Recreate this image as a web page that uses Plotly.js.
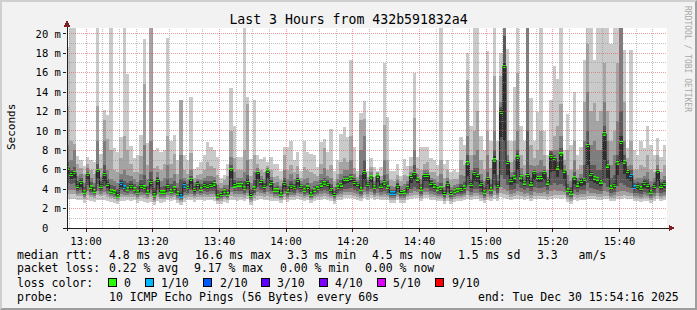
<!DOCTYPE html>
<html><head><meta charset="utf-8">
<script src="https://cdn.plot.ly/plotly-3.0.1.min.js"></script>
<style>
html,body{margin:0;padding:0;background:#f2f2f2;}
#wrap{position:relative;width:697px;height:310px;overflow:hidden;}
#chart{width:697px;height:310px;}
#frame{position:absolute;left:0;top:0;width:697px;height:310px;box-sizing:border-box;border-top:2px solid #cfcfcf;border-left:2px solid #cfcfcf;border-right:2px solid #9e9e9e;border-bottom:2px solid #9e9e9e;pointer-events:none;}
.shapelayer path{shape-rendering:crispEdges;}
</style>
</head><body>
<div id="wrap"><div id="chart"></div><div id="frame"></div></div>
<script>
// ---- time axis ----
const startUTC = [2025, 11, 30, 12, 54, 0];   // first step start
const stepSeconds = 60;
const rangeStart = [2025, 11, 30, 12, 54, 16];
const rangeEnd = [2025, 11, 30, 15, 54, 16];
const xTickLabels = ['13:00','13:20','13:40','14:00','14:20','14:40','15:00','15:20','15:40'];
const yTickVals = [0,2,4,6,8,10,12,14,16,18,20];
const yTickText = ['0\u00a0\u00a0',' 2 m',' 4 m',' 6 m',' 8 m','10 m','12 m','14 m','16 m','18 m','20 m'];

// ---- median rtt (ms) per 60 s step ----
const med = [
6.2,5.5,5.7,4.3,4.7,3.7,5.5,4.2,3.8,5.9,
4.3,5.5,4.5,3.8,3.7,3.3,4.6,4.2,4.0,4.3,
4.0,3.7,4.3,4.2,3.7,4.7,3.4,4.9,3.7,3.7,
4.25,3.8,4.1,3.6,3.3,4.35,4.15,5.0,3.95,4.5,
4.0,4.4,4.3,4.4,4.55,3.3,3.45,3.8,3.5,6.0,
4.35,4.45,4.45,4.1,4.7,3.35,4.1,5.7,4.8,4.3,
5.85,4.6,3.9,3.9,3.5,4.6,3.8,4.3,4.15,4.9,
4.25,3.9,4.2,3.5,3.9,4.1,4.45,4.65,4.5,3.95,
3.45,4.2,4.45,5.0,5.0,5.15,4.7,4.5,4.0,5.7,
4.5,5.25,4.2,5.35,4.3,4.65,4.2,3.6,3.6,4.3,
3.65,3.7,4.15,5.3,5.6,5.05,4.0,5.4,5.4,4.6,
4.35,4.0,4.1,3.55,4.5,3.55,3.8,3.9,3.95,4.2,
6.7,4.5,5.6,5.4,4.5,3.7,5.1,4.0,7.0,4.25,
11.9,16.65,6.75,4.9,5.25,7.3,5.25,4.65,5.4,4.55,
5.7,5.2,5.2,5.7,4.65,7.35,7.15,6.2,7.6,5.85,
3.9,3.6,5.15,4.45,4.8,5.0,8.5,5.5,5.15,5.05,
4.75,9.7,6.4,4.2,4.4,6.7,8.8,6.8,5.8,5.4,
4.2,4.25,4.1,4.6,4.4,3.7,4.3,5.8,4.3,4.5];

// ---- lost pings (of 10) per step ----
const loss = [
0,0,0,0,0,0,0,0,0,0, 0,0,0,0,0,0,1,1,0,0, 0,0,0,0,0,0,0,0,0,0, 0,0,0,0,1,1,0,0,0,0,
0,0,0,0,0,0,0,0,0,0, 0,0,0,0,0,0,0,0,0,0, 0,0,0,0,0,0,0,0,0,0, 0,0,0,0,0,0,0,0,0,0,
0,0,0,0,0,0,0,0,0,0, 0,0,0,0,0,0,0,1,1,0, 0,0,0,0,0,0,0,0,0,0, 0,0,0,0,0,0,0,0,0,0,
0,0,0,0,0,0,0,0,0,0, 0,0,0,0,0,0,0,0,0,0, 0,0,0,0,0,0,0,0,0,0, 0,0,0,0,0,0,0,0,0,0,
0,0,0,0,0,0,0,0,0,1, 1,0,0,0,0,0,0,0,0,0];

// ---- the 10 sorted pings per step (ms), lowest p1 .. highest p10 ----
const p1 = [
3.0,3.0,3.0,2.9,2.9,2.6,2.9,2.8,2.7,2.9, 2.9,2.9,2.8,2.7,2.6,2.5,2.8,2.8,2.9,2.8,
2.9,2.6,2.8,2.7,2.6,2.7,2.4,2.8,2.6,2.7, 2.9,2.8,2.9,2.6,2.4,2.7,2.9,2.9,2.7,2.9,
2.9,2.8,2.9,2.9,2.8,2.5,2.5,2.7,2.6,2.9, 2.9,2.8,2.9,2.8,3.0,2.4,2.8,2.9,3.0,2.9,
2.9,2.8,2.8,2.8,2.6,2.9,2.7,2.9,2.9,3.0, 2.9,2.8,2.9,2.6,2.8,2.9,2.9,3.0,2.9,2.8,
2.5,2.9,2.9,3.1,3.1,3.1,3.0,2.9,2.8,3.1, 2.9,3.1,2.9,3.0,2.9,2.9,2.9,2.6,2.6,2.9,
2.6,2.6,2.9,3.0,3.1,3.1,2.8,3.1,3.1,2.9, 2.9,2.8,2.8,2.5,2.8,2.5,2.7,2.8,2.8,2.9,
3.0,2.9,3.0,3.0,2.8,2.6,2.9,2.8,3.0,2.8, 3.2,3.1,3.0,2.9,3.0,3.0,3.0,2.9,3.0,2.8,
3.0,3.0,3.0,3.0,2.9,3.0,3.1,3.1,3.0,3.1, 2.7,2.5,2.9,2.8,2.9,2.9,3.0,3.0,3.0,2.9,
2.9,3.0,3.0,2.8,2.8,3.0,3.0,3.1,3.0,3.0, 2.8,2.8,2.7,2.8,2.8,2.6,2.8,3.0,2.8,2.9];
const p2 = [
3.5,3.5,3.5,3.3,3.3,3.0,3.4,3.2,3.1,3.4, 3.3,3.4,3.2,3.1,3.0,2.8,3.2,3.2,3.2,3.2,
3.2,3.0,3.2,3.1,3.0,3.2,2.7,3.2,3.0,3.0, 3.2,3.1,3.2,2.9,2.7,3.1,3.2,3.2,3.1,3.2,
3.2,3.2,3.2,3.2,3.2,2.8,2.8,3.0,2.9,3.3, 3.2,3.2,3.2,3.1,3.3,2.7,3.1,3.3,3.3,3.2,
3.3,3.2,3.1,3.1,2.9,3.2,3.0,3.2,3.2,3.3, 3.2,3.1,3.2,2.9,3.1,3.2,3.2,3.3,3.2,3.1,
2.8,3.2,3.2,3.4,3.4,3.4,3.3,3.2,3.1,3.4, 3.2,3.4,3.2,3.3,3.2,3.2,3.2,2.9,2.9,3.2,
2.9,2.9,3.2,3.3,3.4,3.4,3.1,3.4,3.4,3.2, 3.2,3.1,3.1,2.8,3.1,2.8,3.0,3.1,3.1,3.2,
3.4,3.2,3.3,3.3,3.1,2.9,3.2,3.1,3.4,3.1, 3.6,3.5,3.4,3.2,3.3,3.4,3.3,3.2,3.3,3.1,
3.3,3.3,3.3,3.3,3.2,3.3,3.4,3.4,3.4,3.4, 3.0,2.8,3.2,3.1,3.2,3.2,3.3,3.3,3.3,3.2,
3.2,3.3,3.3,3.1,3.1,3.3,3.3,3.4,3.3,3.3, 3.1,3.1,3.0,3.1,3.1,2.9,3.1,3.3,3.1,3.2];
const p3 = [
3.9,3.9,3.9,3.5,3.6,3.2,3.8,3.4,3.3,3.8, 3.5,3.7,3.5,3.3,3.2,3.0,3.5,3.4,3.4,3.5,
3.4,3.2,3.4,3.4,3.2,3.5,2.9,3.5,3.2,3.2, 3.4,3.3,3.4,3.1,2.9,3.4,3.4,3.5,3.3,3.5,
3.4,3.5,3.4,3.5,3.5,2.9,3.0,3.2,3.1,3.7, 3.5,3.5,3.5,3.4,3.6,2.9,3.4,3.7,3.6,3.5,
3.7,3.5,3.3,3.3,3.1,3.5,3.2,3.4,3.4,3.6, 3.5,3.3,3.4,3.1,3.3,3.4,3.5,3.6,3.5,3.3,
3.0,3.4,3.5,3.7,3.7,3.7,3.6,3.5,3.3,3.7, 3.5,3.7,3.4,3.6,3.4,3.5,3.4,3.1,3.1,3.4,
3.1,3.1,3.4,3.6,3.8,3.7,3.3,3.7,3.7,3.5, 3.4,3.3,3.3,3.0,3.4,3.0,3.2,3.3,3.3,3.4,
3.8,3.4,3.6,3.6,3.4,3.1,3.5,3.3,3.8,3.4, 4.2,4.0,3.8,3.5,3.6,3.8,3.7,3.5,3.6,3.4,
3.7,3.6,3.6,3.7,3.5,3.8,3.9,3.8,3.8,3.7, 3.2,3.0,3.5,3.4,3.5,3.5,3.8,3.6,3.6,3.5,
3.5,3.8,3.7,3.3,3.4,3.7,3.8,3.8,3.7,3.6, 3.3,3.3,3.2,3.4,3.3,3.1,3.3,3.6,3.3,3.4];
const p4 = [
4.6,4.5,4.6,3.8,3.9,3.4,4.4,3.7,3.5,4.5, 3.8,4.3,3.8,3.5,3.4,3.1,3.9,3.7,3.6,3.8,
3.6,3.4,3.7,3.6,3.4,3.9,3.1,3.9,3.4,3.4, 3.7,3.5,3.6,3.3,3.0,3.7,3.6,3.9,3.5,3.8,
3.6,3.8,3.7,3.8,3.8,3.0,3.2,3.4,3.2,4.2, 3.8,3.8,3.8,3.6,3.9,3.1,3.6,4.2,3.9,3.7,
4.3,3.8,3.5,3.5,3.2,3.8,3.4,3.7,3.6,3.9, 3.7,3.5,3.6,3.2,3.5,3.6,3.8,3.9,3.8,3.5,
3.2,3.6,3.8,4.0,4.0,4.1,3.9,3.8,3.5,4.2, 3.8,4.0,3.6,4.0,3.7,3.8,3.6,3.3,3.3,3.7,
3.3,3.3,3.6,4.0,4.2,4.0,3.5,4.1,4.1,3.8, 3.7,3.5,3.5,3.2,3.7,3.2,3.4,3.5,3.5,3.6,
4.4,3.7,4.0,4.0,3.7,3.3,3.9,3.5,4.4,3.6, 5.5,5.0,4.4,3.9,4.0,4.5,4.1,3.9,4.1,3.8,
4.2,4.1,4.1,4.2,3.9,4.4,4.6,4.4,4.5,4.3, 3.4,3.2,3.9,3.7,3.9,3.9,4.6,4.1,4.0,3.9,
3.8,4.6,4.2,3.6,3.7,4.3,4.6,4.4,4.2,4.1, 3.6,3.6,3.5,3.7,3.6,3.3,3.6,4.1,3.6,3.7];
const p5 = [
5.6,5.0,5.2,4.0,4.2,3.5,4.9,3.9,3.6,5.2, 4.0,4.8,4.1,3.6,3.5,3.2,4.2,3.9,3.8,4.0,
3.8,3.5,4.0,3.9,3.5,4.3,3.2,4.4,3.5,3.5, 4.0,3.6,3.9,3.4,3.1,4.0,3.9,4.5,3.7,4.2,
3.8,4.1,4.0,4.1,4.2,3.1,3.3,3.6,3.3,5.2, 4.1,4.2,4.2,3.9,4.3,3.2,3.9,5.0,4.4,4.0,
5.1,4.2,3.7,3.7,3.3,4.2,3.6,4.0,3.9,4.4, 4.0,3.7,3.9,3.3,3.7,3.9,4.1,4.3,4.2,3.7,
3.3,3.9,4.1,4.5,4.6,4.7,4.3,4.2,3.8,4.9, 4.2,4.7,3.9,4.7,4.0,4.3,3.9,3.4,3.4,4.0,
3.5,3.5,3.9,4.6,4.9,4.6,3.8,4.8,4.8,4.2, 4.0,3.8,3.8,3.4,4.1,3.4,3.6,3.7,3.7,3.9,
5.4,4.1,4.8,4.7,4.1,3.5,4.5,3.8,5.6,4.0, 9.4,9.0,5.5,4.4,4.6,6.0,4.7,4.3,4.8,4.2,
4.9,4.7,4.7,4.9,4.3,5.8,5.9,5.3,6.0,5.0, 3.7,3.4,4.5,4.1,4.3,4.4,6.5,4.8,4.6,4.5,
4.3,7.0,5.2,3.9,4.1,5.5,6.8,5.6,5.0,4.8, 3.9,3.9,3.8,4.1,4.0,3.5,3.9,4.8,3.9,4.1];
const p6 = [
6.4,5.8,5.9,4.5,4.9,3.9,5.7,4.4,4.0,6.1, 4.5,5.8,4.7,4.0,3.9,3.6,4.8,4.4,4.2,4.5,
4.2,3.9,4.5,4.4,3.9,5.0,3.7,5.1,3.9,3.9, 4.5,4.0,4.3,3.8,3.6,4.6,4.3,5.2,4.1,4.7,
4.2,4.6,4.5,4.6,4.7,3.5,3.6,3.9,3.7,6.2, 4.6,4.6,4.6,4.3,5.0,3.6,4.3,5.9,4.9,4.5,
6.0,4.8,4.0,4.1,3.7,4.8,4.0,4.5,4.3,5.1, 4.4,4.1,4.4,3.7,4.1,4.3,4.6,4.8,4.7,4.2,
3.6,4.4,4.6,5.2,5.2,5.3,4.9,4.6,4.2,6.0, 4.6,5.4,4.4,5.5,4.5,4.9,4.4,3.8,3.8,4.5,
3.8,3.9,4.3,5.5,5.8,5.2,4.2,5.6,5.6,4.8, 4.5,4.2,4.3,3.7,4.7,3.7,4.0,4.1,4.2,4.4,
7.0,4.7,5.9,5.6,4.7,3.9,5.3,4.2,7.4,4.5, 12.2,17.0,6.9,5.1,5.5,7.6,5.4,4.8,5.7,4.8,
5.9,5.4,5.4,5.9,4.8,7.6,7.3,6.4,7.8,6.0, 4.1,3.9,5.4,4.6,5.0,5.2,8.8,5.8,5.4,5.3,
5.0,10.0,6.6,4.4,4.6,7.0,9.5,7.0,6.0,5.6, 4.4,4.5,4.3,4.8,4.6,3.9,4.5,6.0,4.5,4.7];
const p7 = [
6.8,6.0,6.3,4.8,5.1,4.2,5.8,4.7,4.2,6.6, 4.8,6.5,5.0,4.4,4.3,4.0,5.0,4.8,4.6,4.8,
4.5,4.3,4.9,5.5,4.3,5.8,4.1,5.3,4.2,4.3, 5.0,4.5,4.8,4.1,5.0,4.8,4.5,5.4,4.3,4.8,
4.5,4.8,4.8,4.8,4.9,3.9,3.8,4.1,4.0,6.5, 4.9,4.8,4.8,4.8,5.5,4.0,4.9,5.9,5.0,4.6,
6.0,4.9,4.2,4.3,3.9,5.1,4.3,4.8,4.5,5.2, 4.5,4.4,4.6,4.0,4.3,4.4,4.9,5.2,4.9,4.5,
3.8,4.6,4.9,5.4,5.4,5.6,5.1,4.7,5.5,7.0, 4.7,5.5,4.5,5.6,4.6,5.5,4.8,3.9,3.9,4.6,
3.9,4.0,4.5,5.5,6.5,5.3,4.5,5.7,5.7,4.9, 4.6,4.3,4.6,3.9,4.8,3.9,4.1,4.2,4.5,4.7,
7.5,5.0,6.2,6.2,4.9,4.2,5.8,4.5,8.0,4.8, 12.5,19.8,7.0,5.3,5.8,8.0,5.6,5.0,10.0,5.2,
6.0,5.7,5.8,6.0,5.0,7.9,7.5,6.8,8.2,6.1, 4.5,4.2,5.8,4.8,5.1,6.5,10.0,6.5,6.5,6.0,
6.0,10.5,7.0,5.2,5.5,7.5,12.0,7.5,6.1,6.0, 4.6,4.7,4.6,5.0,5.0,4.2,4.7,6.1,4.7,4.9];
const p8 = [
8.5,7.0,8.0,5.4,5.6,4.6,6.2,5.2,4.6,9.0, 5.3,9.0,6.0,5.0,4.8,4.6,5.6,6.0,5.5,5.4,
5.0,4.7,5.6,8.5,5.0,9.0,4.8,5.8,4.8,5.2, 6.5,5.2,5.6,4.6,7.5,5.2,4.9,6.0,4.7,5.0,
4.9,5.2,5.4,5.4,5.3,4.4,4.1,4.4,4.4,7.3, 5.8,5.2,5.2,5.8,7.0,4.6,5.8,6.2,5.4,5.0,
6.2,5.3,4.6,4.7,4.3,6.0,5.0,5.6,5.0,5.6, 4.8,5.0,5.1,4.6,4.8,4.8,5.6,6.2,5.4,5.2,
4.2,5.0,5.6,6.0,6.0,7.0,5.6,4.9,8.0,9.5, 4.9,5.8,4.8,5.7,4.9,7.0,5.6,4.3,4.2,4.9,
4.3,4.5,4.8,5.8,8.0,5.6,5.0,6.0,6.0,5.2, 5.0,4.7,5.6,4.2,5.2,4.2,4.4,4.5,5.5,5.4,
9.5,6.0,7.5,8.0,5.6,4.8,7.5,5.0,10.0,5.5, 13.0,21,7.5,5.8,7.0,10.0,6.2,5.5,21,6.5,
6.4,6.5,7.0,6.4,5.3,7.8,8.0,8.0,9.5,6.5, 5.5,4.8,7.0,5.2,5.6,9.0,14.0,8.5,9.0,8.0,
8.0,13.0,9.0,6.5,7.5,11.0,21,9.0,6.4,6.5, 5.0,5.2,5.2,5.4,5.8,4.8,5.2,6.5,5.0,5.4];
const p9 = [
12.6,9.0,8.7,6.6,6.2,5.6,6.6,6.0,5.6,12.6, 6.2,11.1,9.2,8.0,6.0,5.8,7.2,9.5,8.0,6.6,
5.8,5.8,7.4,14.8,6.5,21,6.2,6.4,6.0,6.6, 9.5,6.6,7.6,5.6,13.2,6.0,5.6,7.7,5.2,5.5,
5.6,6.0,6.8,6.4,6.2,5.5,4.6,4.9,5.4,10.0, 7.2,6.0,6.0,8.0,12.8,5.4,7.5,6.6,6.0,5.8,
6.4,6.0,5.3,5.4,4.9,7.5,6.0,6.5,5.8,6.4, 5.2,6.3,6.0,5.8,5.6,5.4,6.6,8.2,6.0,6.5,
4.8,5.6,6.8,7.2,6.8,9.5,6.2,5.3,11.1,11.2, 5.3,6.3,5.3,5.8,5.4,10.6,7.0,4.9,4.8,5.5,
4.8,5.5,5.4,6.4,11.3,6.2,6.0,6.6,6.8,5.8, 5.8,5.4,7.0,5.2,6.0,4.9,5.0,5.0,7.0,6.5,
15.2,7.5,10.0,12.0,7.0,6.0,10.0,6.2,15.7,7.0, 15.7,21,9.0,6.8,9.0,16.0,7.5,6.5,21,8.5,
7.2,8.0,10.0,7.5,6.0,8.0,9.5,10.5,12.8,7.0, 8.0,6.0,9.0,6.0,6.5,13.0,19.0,12.0,12.9,11.0,
12.0,17.0,12.0,9.0,10.0,17.0,21,13.0,7.2,9.0, 6.0,6.0,6.5,6.3,7.5,6.0,5.8,7.5,5.8,6.5];
const p10 = [
18.6,21,21,7.4,7.0,6.4,7.3,7.0,6.8,21, 7.6,12.2,11.6,21,8.2,7.8,9.4,21,15.9,8.4,
7.2,7.5,9.6,19.5,8.8,21,8.0,8.2,7.8,8.0, 19.6,9.0,9.6,7.0,13.2,7.5,7.0,13.5,6.1,6.3,
6.8,7.5,8.9,8.3,8.0,7.3,5.2,5.5,6.6,14.4, 10.5,7.3,7.3,21,13.5,7.1,13.2,7.5,7.1,7.3,
6.8,7.3,6.6,6.6,5.9,8.3,8.3,9.0,7.0,7.8, 5.9,9.0,7.8,7.6,7.5,6.3,8.9,9.2,7.8,10.2,
5.9,7.0,9.7,10.4,9.4,17.3,8.3,5.9,11.8,13.1, 5.9,7.2,6.3,5.9,6.3,17.0,11.4,5.9,5.9,6.6,
5.4,7.1,6.4,7.3,16.0,7.3,8.3,8.3,8.3,7.2, 7.0,6.5,21,6.6,7.0,5.8,6.0,5.8,9.4,8.5,
18.0,10.5,21,21,9.5,8.0,18.2,9.0,21,9.0, 18.0,21,18.4,9.0,14.5,21,10.5,9.0,21,13.4,
9.0,11.9,21,10.0,7.5,13.2,16.7,15.3,21,8.0, 11.7,8.5,14.0,7.5,8.3,17.3,21,21,17.3,21,
21,21,21,19.0,21,21,21,18.3,8.2,18.3, 8.0,7.5,9.0,8.2,10.5,8.5,7.5,9.3,7.3,8.5];

// ---- legend / stats text ----
const lossLabels = ['0','1/10','2/10','3/10','4/10','5/10','9/10'];
const lossLevels = [0,1,2,3,4,5,9];
const lossColors = ['#26ff00','#00b8ff','#0059ff','#5e00ff','#7e00ff','#dd00ff','#ff0000'];
const smokeColors = ['#cacaca','#a4a4a4','#7e7e7e','#585858','#323232'];
const statRows = [
  ['median rtt:', '4.8 ms avg', '16.6 ms max', '3.3 ms min', '4.5 ms now', '1.5 ms sd', '3.3   am/s'],
  ['packet loss:', '0.22 % avg', '9.17 % max', '0.00 % min', '0.00 % now'],
];
const probeText = '10 ICMP Echo Pings (56 Bytes) every 60s';
const endText = 'end: Tue Dec 30 15:54:16 2025';
const titleText = 'Last 3 Hours from 432b591832a4';

// ---------------- build ----------------
const utc = a => Date.UTC(a[0],a[1],a[2],a[3],a[4],a[5]);
const t0 = utc(startUTC);
const stepMs = stepSeconds*1000;
const n = med.length;
const xc = [], xs = [];
for (let k=0;k<n;k++){ xc.push(t0+(k+0.5)*stepMs); xs.push(t0+k*stepMs); }

const pings = [p1,p2,p3,p4,p5,p6,p7,p8,p9,p10];
const traces = [];
for (let b=0;b<5;b++){
  const lo = pings[b], hi = pings[9-b];
  traces.push({type:'bar', x:xc, base:lo, y:hi.map((v,i)=>v-lo[i]), width:stepMs,
    marker:{color:smokeColors[b], line:{width:0}}, hoverinfo:'skip'});
}
// median step line
traces.push({type:'scatter', mode:'lines', x:xs.concat([t0+n*stepMs]), y:med.concat([med[n-1]]),
  line:{color:'#202020', width:1, shape:'hv'}, hoverinfo:'skip'});
// median markers coloured by loss
const blockH = 0.36;
const colorFor = l => { let c = lossColors[0]; lossLevels.forEach((lv,i)=>{ if (l>=lv) c = lossColors[i]; }); return c; };
traces.push({type:'bar', x:xc, base:med.map(v=>v-blockH/2), y:med.map(()=>blockH), width:stepMs,
  marker:{color:loss.map(colorFor), line:{width:0}}, hoverinfo:'skip'});

// geometry helpers (paper coords)
const L=67, T=28, W=600, H=200;
const px = v => (v-L)/W, py = v => (T+H-v)/H;

const shapes = [];
// grid (drawn above smoke as rrdtool does)
const minorCol = 'rgba(143,143,143,0.55)', majorCol = 'rgba(222,79,79,0.55)';
for (let m=1; m<=20; m++){
  shapes.push({type:'line', layer:'above', xref:'paper', yref:'y', x0:0, x1:1, y0:m, y1:m,
    line:{color: m%2===0 ? majorCol : minorCol, width:1, dash:'1px,1px'}});
}
const xr0 = utc(rangeStart), xr1 = utc(rangeEnd);
for (let t = t0 + stepMs; t < xr1; t += 5*stepMs){
  const d = new Date(t); const mm = d.getUTCMinutes();
  if (mm % 5 !== 0 || t <= xr0) continue;
  shapes.push({type:'line', layer:'above', xref:'x', yref:'paper', x0:t, x1:t, y0:0, y1:1,
    line:{color: mm%20===0 ? majorCol : minorCol, width:1, dash:'1px,1px'}});
}
// axes lines and arrows
shapes.push({type:'line', layer:'above', xref:'paper', yref:'paper', x0:px(63), x1:px(669), y0:0, y1:0, line:{color:'#1f1f1f', width:1}});
shapes.push({type:'line', layer:'above', xref:'paper', yref:'paper', x0:0, x1:0, y0:py(231), y1:py(24), line:{color:'#1f1f1f', width:1}});
shapes.push({type:'path', layer:'above', xref:'paper', yref:'paper',
  path:`M ${px(64)} ${py(26.5)} L ${px(70)} ${py(26.5)} L ${px(67)} ${py(20)} Z`, fillcolor:'#801f1f', line:{width:0}});
shapes.push({type:'path', layer:'above', xref:'paper', yref:'paper',
  path:`M ${px(668.5)} ${py(225)} L ${px(668.5)} ${py(231)} L ${px(675)} ${py(228)} Z`, fillcolor:'#801f1f', line:{width:0}});

const mono = 'DejaVu Sans Mono';
const ann = [];
const txt = (x,y,text,size,extra) => Object.assign({xref:'paper', yref:'paper', x:px(x), y:py(y), text:text, showarrow:false,
  xanchor:'left', yanchor:'middle', borderpad:0, font:{family:mono, size:size, color:'#000'}}, extra||{});
ann.push(txt(11, 127, 'Seconds', 11, {xanchor:'center', textangle:-90}));
ann.push(txt(688, 59, 'RRDTOOL / TOBI OETIKER', 8, {xanchor:'center', textangle:90, font:{family:mono, size:8, color:'#a8a8a8'}}));
const colX = [[16,108,193.5,285.9,371.4,456.9,535.5],[16,108,193.1,278.6,364.1]];
const rowY = [255, 268.3, 282.5, 296.5];
statRows.forEach((row,r)=> row.forEach((s,i)=> ann.push(txt(colX[r][i], rowY[r], s.replace(/ /g,'\u00a0'), 11.5))));
ann.push(txt(16, rowY[2], 'loss color:', 11.5));
const boxX = [108.4,145,203.6,261,319,377,435.6];
lossLabels.forEach((lab,i)=>{
  shapes.push({type:'rect', xref:'paper', yref:'paper', x0:px(boxX[i]), x1:px(boxX[i]+8), y0:py(278.5), y1:py(286.5),
    fillcolor:lossColors[i], line:{color:'#000', width:1}});
  ann.push(txt(boxX[i]+15, rowY[2], lab, 11.5));
});
ann.push(txt(16, rowY[3], 'probe:', 11.5));
ann.push(txt(108, rowY[3], probeText, 11.5));
ann.push(txt(680, rowY[3], endText, 11.5, {xanchor:'right'}));

const tickVals = xTickLabels.map(s => Date.UTC(2025,11,30, +s.slice(0,2), +s.slice(3,5), 0));

const layout = {
  width:697, height:310, margin:{l:L, r:697-L-W, t:T, b:310-T-H, pad:0},
  paper_bgcolor:'#f2f2f2', plot_bgcolor:'#ffffff',
  barmode:'overlay', bargap:0, showlegend:false,
  font:{family:mono, color:'#000'},
  title:{text:titleText, font:{family:mono, size:13.2, color:'#000'}, xref:'container', x:0.5, xanchor:'center', yref:'container', y:1-19/310, yanchor:'middle'},
  xaxis:{type:'date', range:[xr0, xr1], tickmode:'array', tickvals:tickVals, ticktext:xTickLabels,
    showgrid:false, zeroline:false, showline:false, ticks:'outside', ticklen:3, tickcolor:'#1f1f1f', tickwidth:1,
    tickfont:{family:mono, size:10.5, color:'#000'}, fixedrange:true},
  yaxis:{range:[0, H/9.709], tickmode:'array', tickvals:yTickVals, ticktext:yTickText,
    showgrid:false, zeroline:false, showline:false, ticks:'outside', ticklen:3, tickcolor:'#1f1f1f', tickwidth:1,
    tickfont:{family:mono, size:10.5, color:'#000'}, fixedrange:true},
  shapes:shapes, annotations:ann
};
Plotly.newPlot('chart', traces, layout, {displayModeBar:false, staticPlot:true});
</script>
</body></html>
